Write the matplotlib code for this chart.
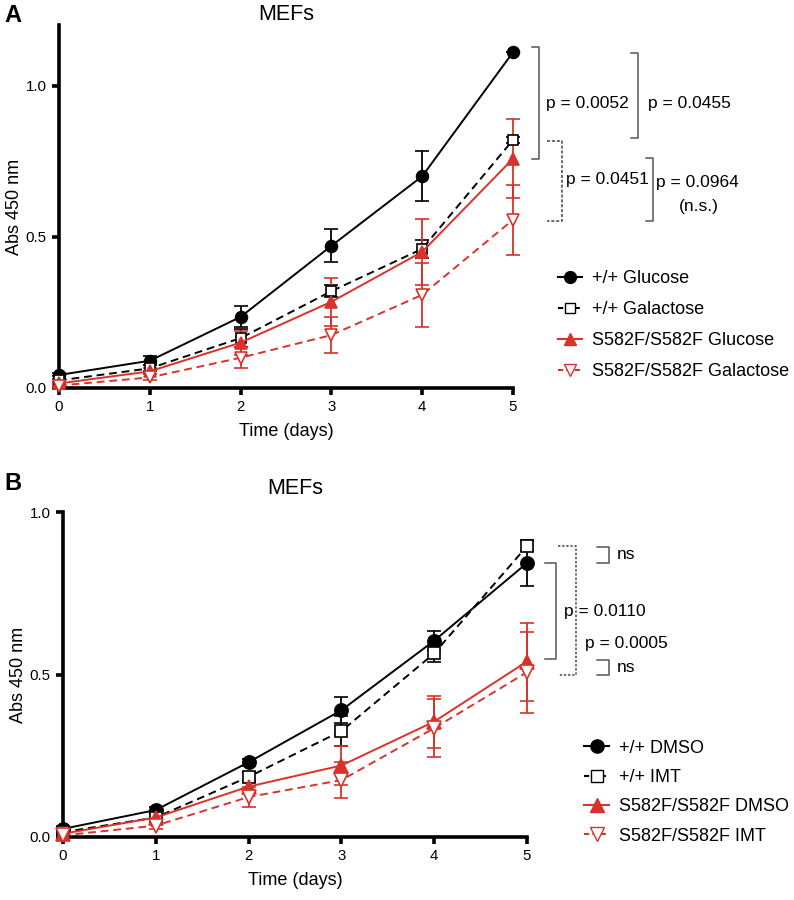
import numpy as np
import matplotlib
matplotlib.use("Agg")
import matplotlib.pyplot as plt
from matplotlib.lines import Line2D

plt.rcParams['font.family'] = ['Liberation Sans', 'DejaVu Sans']

RED = "#d8322a"

days = [0, 1, 2, 3, 4, 5]

## Panel A data ##
a_labels = ["+/+ Glucose", "+/+ Galactose", "S582F/S582F Glucose", "S582F/S582F Galactose"]
a_glu_wt = [0.043, 0.090, 0.235, 0.470, 0.700, 1.110]
a_glu_wt_err = [0.005, 0.015, 0.035, 0.055, 0.083, 0.0]
a_gal_wt = [0.025, 0.065, 0.165, 0.320, 0.460, 0.820]
a_gal_wt_err = [0.005, 0.010, 0.030, 0.020, 0.030, 0.010]
a_glu_mut = [0.015, 0.055, 0.150, 0.285, 0.450, 0.758]
a_glu_mut_err = [0.005, 0.010, 0.040, 0.080, 0.110, 0.130]
a_gal_mut = [0.008, 0.035, 0.100, 0.175, 0.308, 0.556]
a_gal_mut_err = [0.005, 0.010, 0.035, 0.060, 0.105, 0.115]

## Panel B data ##
b_labels = ["+/+ DMSO", "+/+ IMT", "S582F/S582F DMSO", "S582F/S582F IMT"]
b_dmso_wt = [0.025, 0.083, 0.230, 0.390, 0.604, 0.843]
b_dmso_wt_err = [0.005, 0.010, 0.010, 0.040, 0.030, 0.070]
b_imt_wt = [0.015, 0.060, 0.185, 0.326, 0.565, 0.895]
b_imt_wt_err = [0.005, 0.010, 0.015, 0.045, 0.025, 0.015]
b_dmso_mut = [0.010, 0.060, 0.155, 0.220, 0.355, 0.540]
b_dmso_mut_err = [0.005, 0.010, 0.020, 0.060, 0.080, 0.120]
b_imt_mut = [0.005, 0.035, 0.123, 0.175, 0.335, 0.507]
b_imt_mut_err = [0.005, 0.010, 0.030, 0.055, 0.090, 0.125]


def draw_series(ax, y, err, color, ls, marker, mfc, ms):
    ax.errorbar(days, y, yerr=err, color=color, ls=ls, lw=1.4,
                marker=marker, mfc=mfc, mec=color, ms=ms, mew=1.2,
                capsize=4.8, elinewidth=1.3, capthick=1.3, clip_on=False,
                dashes=(4, 2.5) if ls == "--" else (None, None), zorder=3)


def style_axis(ax, ymax):
    ax.set_xlim(0, 5)
    ax.set_ylim(0, ymax)
    ax.set_xticks(days)
    ax.set_yticks([0.0, 0.5, 1.0])
    ax.set_yticklabels(["0.0", "0.5", "1.0"])
    for s in ["top", "right"]:
        ax.spines[s].set_visible(False)
    for s in ["left", "bottom"]:
        ax.spines[s].set_linewidth(2.6)
    ax.tick_params(width=2.6, length=5, labelsize=10.8, pad=4)
    ax.set_xlabel("Time (days)", fontsize=13, labelpad=6)
    ax.set_ylabel("Abs 450 nm", fontsize=13, labelpad=2)


def bracket(ax, x, y0, y1, xl, color="#555555", ls="-"):
    ax.plot([xl, x, x, xl], [y0, y0, y1, y1], color=color, lw=1.1, ls=ls,
            clip_on=False)


def legend_handles(ms):
    return [Line2D([], [], color="black", ls="-", marker="o", ms=ms, mfc="black"),
            Line2D([], [], color="black", ls="--", dashes=(2.5, 1.5), marker="s", ms=ms - 1.5, mfc="white"),
            Line2D([], [], color=RED, ls="-", marker="^", ms=ms + 0.5, mfc=RED),
            Line2D([], [], color=RED, ls="--", dashes=(2.5, 1.5), marker="v", ms=ms, mfc="white", mec=RED)]


fig = plt.figure(figsize=(7.94, 9.0), dpi=100)

##Panel A##
axA = fig.add_axes([0.0743, 0.5689, 0.5718, 0.4033])
draw_series(axA, a_glu_wt, a_glu_wt_err, "black", "-", "o", "black", 8.5)
draw_series(axA, a_gal_wt, a_gal_wt_err, "black", "--", "s", "white", 7.5)
draw_series(axA, a_glu_mut, a_glu_mut_err, RED, "-", "^", RED, 9)
draw_series(axA, a_gal_mut, a_gal_mut_err, RED, "--", "v", "white", 8.5)
style_axis(axA, 1.2)
axA.set_title("MEFs", fontsize=15.5, pad=-3)

bracket(axA, 5.29, 1.126, 0.758, 5.21)
axA.text(5.36, 0.94, "p = 0.0052", fontsize=12.5, va="center")
bracket(axA, 6.38, 1.106, 0.828, 6.30)
axA.text(6.49, 0.94, "p = 0.0455", fontsize=12.5, va="center")
bracket(axA, 5.54, 0.818, 0.553, 5.37, color="#444444", ls=(0, (2, 1.2)))
axA.text(5.58, 0.69, "p = 0.0451", fontsize=12.5, va="center")
bracket(axA, 6.54, 0.762, 0.553, 6.46)
axA.text(6.58, 0.68, "p = 0.0964", fontsize=12.5, va="center")
axA.text(7.05, 0.60, "(n.s.)", fontsize=12.5, va="center", ha="center")

axA.legend(legend_handles(8.5), a_labels, loc="upper left", bbox_to_anchor=(0.703, 0.700),
           bbox_transform=fig.transFigure, frameon=False, fontsize=13,
           handlelength=1.3, handletextpad=0.55, labelspacing=0.78,
           borderpad=0, borderaxespad=0)

fig.text(0.005, 0.983, "A", fontsize=17, fontweight="bold", va="center")

##Panel B##
axB = fig.add_axes([0.0793, 0.07, 0.5844, 0.3611])
draw_series(axB, b_dmso_wt, b_dmso_wt_err, "black", "-", "o", "black", 9.5)
draw_series(axB, b_imt_wt, b_imt_wt_err, "black", "--", "s", "white", 8)
draw_series(axB, b_dmso_mut, b_dmso_mut_err, RED, "-", "^", RED, 10)
draw_series(axB, b_imt_mut, b_imt_mut_err, RED, "--", "v", "white", 9.5)
style_axis(axB, 1.0)
axB.set_title("MEFs", fontsize=15.5, pad=13)

bracket(axB, 5.31, 0.843, 0.547, 5.19)
axB.text(5.40, 0.695, "p = 0.0110", fontsize=12.5, va="center")
bracket(axB, 5.53, 0.895, 0.500, 5.33, color="#444444", ls=(0, (1.5, 1.2)))
axB.text(5.63, 0.595, "p = 0.0005", fontsize=12.5, va="center")
bracket(axB, 5.88, 0.893, 0.843, 5.75)
axB.text(5.97, 0.868, "ns", fontsize=12.5, va="center")
bracket(axB, 5.88, 0.545, 0.500, 5.75)
axB.text(5.97, 0.522, "ns", fontsize=12.5, va="center")

axB.legend(legend_handles(9.5), b_labels, loc="upper left", bbox_to_anchor=(0.7355, 0.178),
           bbox_transform=fig.transFigure, frameon=False, fontsize=13,
           handlelength=1.4, handletextpad=0.55, labelspacing=0.68,
           borderpad=0, borderaxespad=0)

fig.text(0.005, 0.463, "B", fontsize=17, fontweight="bold", va="center")

plt.savefig("out.png", dpi=100)
